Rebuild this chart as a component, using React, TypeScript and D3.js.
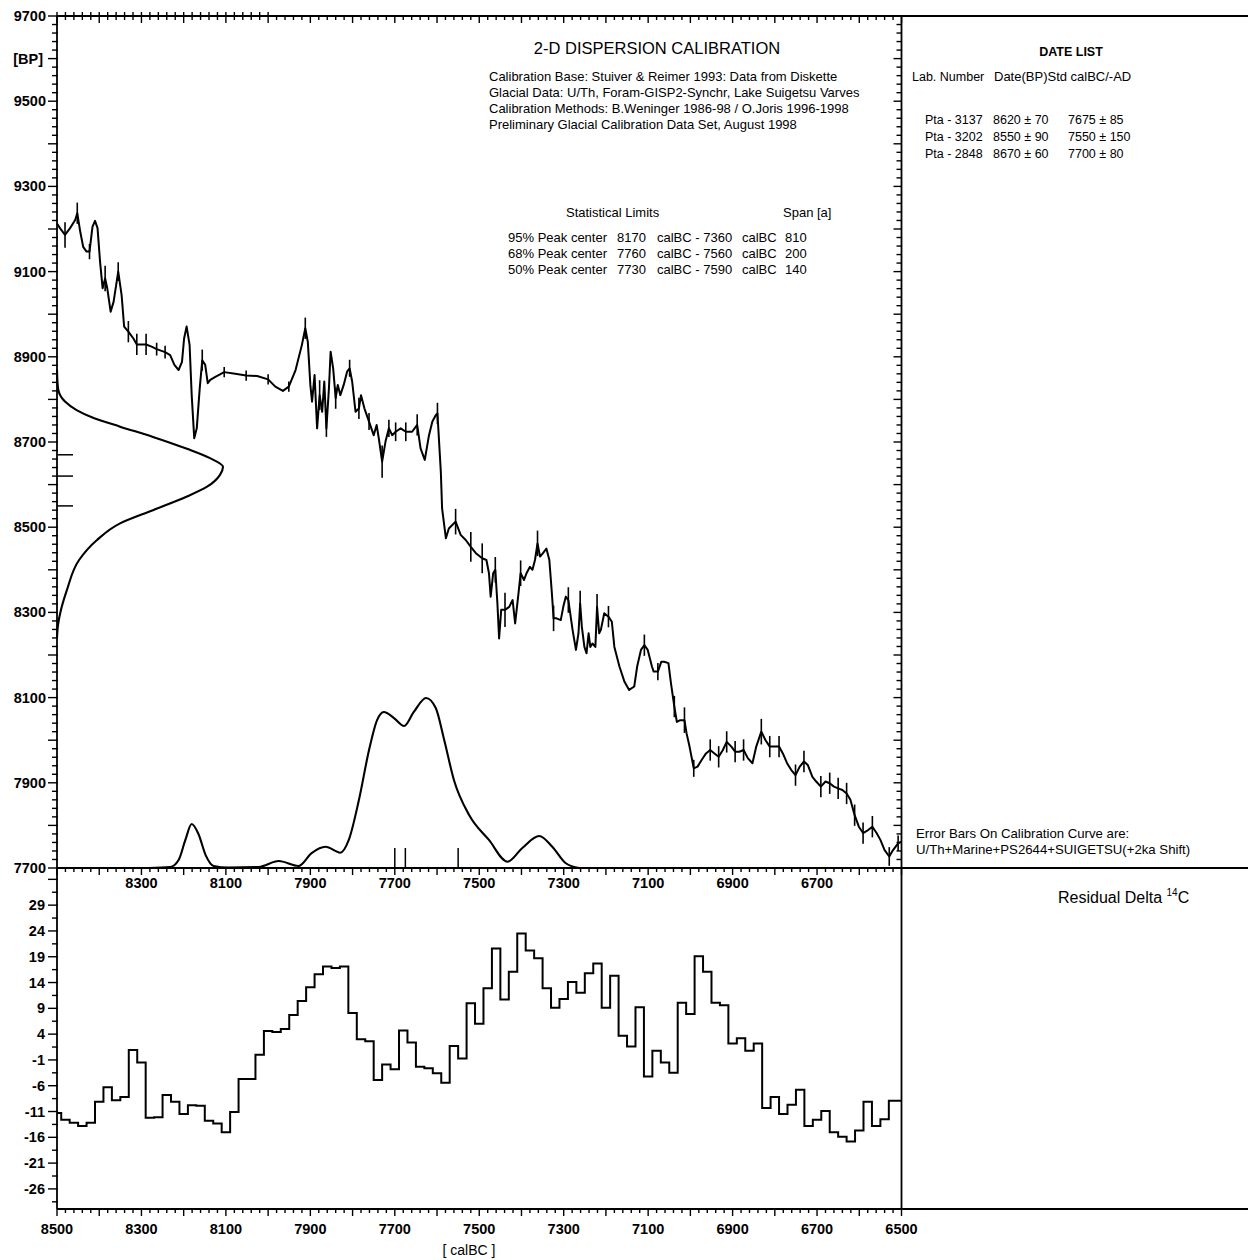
import React from 'react';
import * as d3 from 'd3';

// calibration curve (calBC, BP)
const CAL_BC = [8500, 8493, 8481, 8469, 8457, 8452, 8445, 8438, 8430, 8423, 8416, 8410, 8404, 8398, 8392, 8386, 8381, 8373, 8366, 8355, 8347, 8341, 8331, 8319, 8311, 8299, 8289, 8276, 8264, 8244, 8232, 8222, 8212, 8204, 8199, 8193, 8186, 8181, 8175, 8169, 8162, 8156, 8149, 8143, 8137, 8125, 8104, 8078, 8052, 8026, 8000, 7983, 7965, 7951, 7935, 7920, 7912, 7906, 7900, 7896, 7890, 7884, 7878, 7872, 7867, 7862, 7856, 7852, 7846, 7840, 7835, 7829, 7821, 7813, 7807, 7801, 7793, 7785, 7780, 7772, 7761, 7750, 7743, 7738, 7730, 7722, 7714, 7706, 7698, 7686, 7674, 7659, 7647, 7639, 7629, 7619, 7611, 7603, 7599, 7591, 7588, 7579, 7572, 7556, 7544, 7532, 7520, 7508, 7493, 7483, 7477, 7473, 7467, 7462, 7457, 7453, 7448, 7439, 7429, 7421, 7415, 7407, 7402, 7394, 7388, 7380, 7374, 7368, 7362, 7356, 7349, 7341, 7334, 7328, 7324, 7317, 7307, 7301, 7295, 7289, 7279, 7271, 7265, 7261, 7257, 7251, 7246, 7241, 7237, 7232, 7225, 7221, 7216, 7212, 7204, 7194, 7186, 7180, 7168, 7156, 7145, 7133, 7126, 7117, 7109, 7101, 7091, 7087, 7077, 7069, 7062, 7052, 7046, 7038, 7032, 7024, 7014, 7009, 7002, 6992, 6983, 6973, 6963, 6953, 6943, 6933, 6923, 6914, 6903, 6894, 6884, 6874, 6864, 6853, 6844, 6832, 6822, 6812, 6801, 6790, 6781, 6771, 6761, 6751, 6741, 6731, 6722, 6711, 6702, 6691, 6680, 6670, 6660, 6650, 6640, 6630, 6621, 6611, 6601, 6591, 6579, 6569, 6559, 6550, 6540, 6529, 6520, 6508, 6500];
const CAL_BP = [9213, 9202, 9186, 9202, 9221, 9237, 9194, 9158, 9147, 9147, 9205, 9219, 9202, 9123, 9061, 9084, 9061, 9006, 9029, 9100, 9045, 8971, 8959, 8943, 8929, 8929, 8929, 8924, 8918, 8911, 8904, 8881, 8869, 8888, 8943, 8971, 8928, 8810, 8709, 8732, 8826, 8892, 8881, 8838, 8846, 8853, 8864, 8860, 8856, 8855, 8847, 8830, 8820, 8830, 8869, 8928, 8967, 8935, 8834, 8795, 8857, 8732, 8810, 8771, 8842, 8732, 8826, 8912, 8873, 8803, 8834, 8810, 8834, 8865, 8873, 8842, 8771, 8779, 8810, 8779, 8748, 8716, 8740, 8709, 8654, 8701, 8732, 8716, 8724, 8732, 8724, 8724, 8740, 8685, 8658, 8716, 8748, 8763, 8767, 8630, 8544, 8474, 8497, 8513, 8482, 8470, 8454, 8439, 8427, 8423, 8392, 8337, 8392, 8400, 8321, 8239, 8306, 8306, 8313, 8329, 8274, 8345, 8392, 8376, 8392, 8407, 8400, 8423, 8462, 8431, 8439, 8450, 8423, 8345, 8286, 8286, 8282, 8313, 8337, 8329, 8259, 8212, 8251, 8321, 8266, 8219, 8204, 8251, 8219, 8227, 8219, 8313, 8251, 8259, 8298, 8290, 8278, 8219, 8173, 8137, 8118, 8126, 8173, 8212, 8223, 8212, 8173, 8161, 8161, 8184, 8184, 8181, 8134, 8079, 8043, 8047, 8047, 8016, 7985, 7934, 7938, 7954, 7969, 7977, 7969, 7961, 7977, 7996, 7985, 7973, 7973, 7977, 7958, 7946, 7985, 8020, 8000, 7985, 7985, 7985, 7969, 7946, 7930, 7918, 7938, 7950, 7942, 7914, 7903, 7891, 7903, 7899, 7891, 7887, 7883, 7875, 7860, 7824, 7797, 7782, 7789, 7797, 7782, 7766, 7742, 7727, 7742, 7758, 7762];

// error bars on the calibration curve
const ERR_BC = [8481, 8452, 8423, 8386, 8355, 8331, 8311, 8289, 8264, 8244, 8156, 8104, 8052, 8000, 7951, 7912, 7878, 7862, 7840, 7807, 7785, 7761, 7730, 7714, 7698, 7674, 7647, 7599, 7556, 7520, 7493, 7462, 7439, 7402, 7362, 7324, 7289, 7261, 7221, 7194, 7109, 7077, 7038, 7014, 6992, 6953, 6933, 6914, 6894, 6874, 6832, 6812, 6790, 6751, 6731, 6691, 6670, 6650, 6630, 6611, 6591, 6569, 6529, 6508];
const ERR_BP = [9186, 9237, 9147, 9084, 9100, 8959, 8929, 8929, 8918, 8911, 8892, 8864, 8856, 8847, 8830, 8967, 8810, 8732, 8803, 8873, 8779, 8748, 8654, 8732, 8724, 8724, 8740, 8767, 8513, 8454, 8427, 8400, 8306, 8392, 8462, 8286, 8329, 8321, 8313, 8290, 8223, 8161, 8079, 8047, 7934, 7977, 7961, 7996, 7973, 7977, 8020, 7985, 7985, 7918, 7950, 7891, 7899, 7887, 7875, 7824, 7782, 7797, 7727, 7758];
const ERR_SD = [30, 25, 18, 30, 22, 25, 25, 25, 15, 15, 25, 12, 12, 12, 12, 25, 35, 20, 25, 20, 25, 20, 38, 20, 22, 22, 25, 25, 30, 35, 35, 30, 40, 30, 30, 30, 30, 30, 30, 25, 25, 20, 25, 30, 20, 25, 25, 25, 25, 25, 30, 25, 25, 25, 25, 25, 25, 25, 25, 25, 25, 25, 22, 18];

// probability of the radiocarbon dates (BP axis)
const BP_DENS_BP = [8870, 8840, 8822, 8795, 8775, 8757, 8736, 8712, 8684, 8662, 8642, 8623, 8595, 8572, 8540, 8509, 8470, 8423, 8353, 8306, 8270, 8240];
const BP_DENS = [0, 0.003, 0.008, 0.048, 0.118, 0.217, 0.38, 0.578, 0.783, 0.922, 1.0, 0.982, 0.904, 0.783, 0.578, 0.38, 0.241, 0.133, 0.06, 0.024, 0.006, 0];

// calibrated probability (calBC axis)
const CAL_DENS_BC = [8283, 8232, 8212, 8196, 8181, 8165, 8148, 8129, 8094, 8022, 7975, 7928, 7897, 7864, 7829, 7809, 7785, 7761, 7742, 7726, 7702, 7678, 7655, 7626, 7603, 7583, 7560, 7524, 7477, 7433, 7398, 7358, 7327, 7295, 7263];
const CAL_DENS = [0, 0.006, 0.047, 0.165, 0.259, 0.2, 0.076, 0.012, 0.003, 0.006, 0.041, 0.012, 0.088, 0.125, 0.09, 0.165, 0.4, 0.694, 0.87, 0.918, 0.882, 0.835, 0.918, 1.0, 0.941, 0.753, 0.518, 0.312, 0.165, 0.037, 0.118, 0.188, 0.125, 0.028, 0];

// residual delta 14C, 20-year steps from 8500 calBC
const RESID = [-11.3, -12.6, -13.2, -13.8, -13.2, -9.1, -6.3, -8.8, -8.2, 0.9, -1.5, -12.2, -12.1, -7.8, -9.1, -11.5, -9.8, -9.9, -12.8, -13.3, -15.0, -11.1, -4.7, -4.7, 0, 4.6, 4.4, 5.0, 7.7, 10.4, 13.1, 15.6, 17.1, 16.8, 17.1, 8.1, 3.0, 2.6, -4.9, -1.9, -2.8, 4.7, 2.4, -2.3, -2.6, -3.6, -5.4, 1.7, -0.7, 10.0, 6.0, 12.9, 20.6, 10.7, 16.1, 23.5, 20.2, 18.7, 12.9, 9.1, 10.8, 14.1, 12.0, 15.8, 17.7, 9.1, 15.3, 3.7, 1.6, 9.2, -4.2, 0.8, -1.5, -3.5, 10.1, 7.9, 19.1, 16.1, 10.1, 9.6, 2.2, 3.2, 0.8, 2.2, -10.3, -8.2, -11.5, -9.7, -6.8, -13.8, -12.6, -10.9, -15.0, -15.9, -16.8, -14.7, -9.1, -13.8, -12.5, -8.9];
const RESID_START = 8500;
const RESID_STEP = 20;

// date list
const LAB_NO = ['Pta - 3137', 'Pta - 3202', 'Pta - 2848'];
const DATE_BP = [8620, 8550, 8670];
const DATE_BP_SD = [70, 90, 60];
const DATE_CAL = [7675, 7550, 7700];
const DATE_CAL_SD = [85, 150, 80];

// statistical limits
const STAT_LEVEL = ['95%', '68%', '50%'];
const STAT_FROM = [8170, 7760, 7730];
const STAT_TO = [7360, 7560, 7590];
const STAT_SPAN = [810, 200, 140];

const INFO_LINES = [
  'Calibration Base: Stuiver & Reimer 1993: Data from Diskette',
  'Glacial Data: U/Th, Foram-GISP2-Synchr, Lake Suigetsu Varves',
  'Calibration Methods: B.Weninger 1986-98 / O.Joris 1996-1998',
  'Preliminary Glacial Calibration Data Set, August 1998',
];

const TOP_X_LABELS = [8300, 8100, 7900, 7700, 7500, 7300, 7100, 6900, 6700];
const BOTTOM_X_LABELS = [8500, 8300, 8100, 7900, 7700, 7500, 7300, 7100, 6900, 6700, 6500];
const BP_LABELS = [9700, 9500, 9300, 9100, 8900, 8700, 8500, 8300, 8100, 7900, 7700];
const RES_LABELS = [29, 24, 19, 14, 9, 4, -1, -6, -11, -16, -21, -26];

const W = 1248, H = 1260;
const L = 57, R = 901.5, T = 16, M = 868, B = 1208;
const FONT = '"Liberation Sans", Arial, sans-serif';

export default function App() {
  const x = d3.scaleLinear().domain([8500, 6500]).range([L, R]);
  const yBP = d3.scaleLinear().domain([9700, 7700]).range([T, M]);
  const yRes = d3.scaleLinear().domain([36.2, -29.7]).range([M, B]);
  const dX = d3.scaleLinear().domain([0, 1]).range([L, L + 166]);
  const dY = d3.scaleLinear().domain([0, 1]).range([M, M - 170]);

  const curvePath = d3.line<number>()
    .x((_, i) => x(CAL_BC[i]))
    .y(d => yBP(d))(CAL_BP) || '';

  const bpDensPath = d3.line<number>()
    .x(d => dX(d))
    .y((_, i) => yBP(BP_DENS_BP[i]))
    .curve(d3.curveMonotoneY)(BP_DENS) || '';

  const calDensPath = d3.line<number>()
    .x((_, i) => x(CAL_DENS_BC[i]))
    .y(d => dY(d))
    .curve(d3.curveMonotoneX)(CAL_DENS) || '';

  const stepPts: [number, number][] = [];
  RESID.forEach((v, i) => {
    const c = RESID_START - RESID_STEP * i;
    const a = Math.min(8500, c + RESID_STEP / 2);
    const b = i === RESID.length - 1 ? 6500 : c - RESID_STEP / 2;
    stepPts.push([a, v], [b, v]);
  });
  const stepPath = d3.line<[number, number]>()
    .x(d => x(d[0]))
    .y(d => yRes(d[1]))(stepPts) || '';

  const years = d3.range(6500, 8501, 20);
  const bps = d3.range(7700, 9701, 20);
  const resTicks = d3.range(-28.5, 36, 2.5);

  const tickStroke = { stroke: '#000', strokeWidth: 1.4 };

  return (
    <div style={{ position: 'absolute', left: 0, top: 0 }}>
      <svg width={W} height={H} viewBox={`0 0 ${W} ${H}`} style={{ display: 'block', background: '#fff' }} fontFamily={FONT}>
        <rect width={W} height={H} fill="#fff" />

        {/* frame lines */}
        <g stroke="#000" strokeWidth={1.8} fill="none">
          <line x1={L} y1={T} x2={W} y2={T} />
          <line x1={L} y1={M} x2={W} y2={M} />
          <line x1={L} y1={B + 1} x2={W} y2={B + 1} />
          <line x1={L} y1={T} x2={L} y2={B + 1} />
          <line x1={R} y1={T} x2={R} y2={B + 1} />
        </g>

        {/* top border ticks */}
        <g {...tickStroke}>
          {years.map(yr => {
            const major = yr % 100 === 0;
            const cross = yr >= 8000;
            const y1 = cross ? T - 4 : T;
            const y2 = T + (major ? 7 : 4);
            return <line key={`tt${yr}`} x1={x(yr)} x2={x(yr)} y1={y1} y2={y2} />;
          })}
        </g>

        {/* x ticks of top panel */}
        <g {...tickStroke}>
          {years.map(yr => (
            <line key={`tm${yr}`} x1={x(yr)} x2={x(yr)} y1={M} y2={M + (yr % 100 === 0 ? 7 : 4)} />
          ))}
        </g>
        <g fontSize={14.5} fontWeight="bold" textAnchor="middle">
          {TOP_X_LABELS.map(v => (
            <text key={`tl${v}`} x={x(v)} y={M + 20}>{v}</text>
          ))}
        </g>

        {/* x ticks of bottom panel */}
        <g {...tickStroke}>
          {years.map(yr => (
            <line key={`tb${yr}`} x1={x(yr)} x2={x(yr)} y1={B + 1} y2={B + 1 + (yr % 100 === 0 ? 7 : 4)} />
          ))}
        </g>
        <g fontSize={14.5} fontWeight="bold" textAnchor="middle">
          {BOTTOM_X_LABELS.map(v => (
            <text key={`bl${v}`} x={x(v)} y={B + 26}>{v}</text>
          ))}
        </g>
        <text x={469} y={1255} fontSize={14} textAnchor="middle">[ calBC ]</text>

        {/* BP axis */}
        <g {...tickStroke}>
          {bps.map(bp => {
            const major = bp % 100 === 0;
            return (
              <g key={`by${bp}`}>
                <line x1={L - (major ? 9 : 5)} x2={L + 1} y1={yBP(bp)} y2={yBP(bp)} />
                <line x1={R - (major ? 8 : 5)} x2={R} y1={yBP(bp)} y2={yBP(bp)} />
              </g>
            );
          })}
        </g>
        <g fontSize={14.5} fontWeight="bold" textAnchor="end">
          {BP_LABELS.map(v => (
            <text key={`bpl${v}`} x={46} y={yBP(v) + 5}>{v}</text>
          ))}
          <text x={43} y={yBP(9600) + 5}>[BP]</text>
        </g>

        {/* residual axis */}
        <g {...tickStroke}>
          {resTicks.map(v => {
            const major = Math.abs(((v + 26) % 5 + 5) % 5) < 1e-6;
            return <line key={`ry${v}`} x1={L - (major ? 9 : 5)} x2={L + 1} y1={yRes(v)} y2={yRes(v)} />;
          })}
        </g>
        <g fontSize={14.5} fontWeight="bold" textAnchor="end">
          {RES_LABELS.map(v => (
            <text key={`rl${v}`} x={45} y={yRes(v) + 5}>{v}</text>
          ))}
        </g>

        {/* date markers */}
        <g stroke="#000" strokeWidth={1.5}>
          {DATE_BP.map((bp, i) => (
            <line key={`db${i}`} x1={L} x2={L + 16} y1={yBP(bp)} y2={yBP(bp)} />
          ))}
          {DATE_CAL.map((c, i) => (
            <line key={`dc${i}`} x1={x(c)} x2={x(c)} y1={M} y2={M - 20} />
          ))}
        </g>

        {/* curves */}
        <g fill="none" stroke="#000" strokeLinejoin="round">
          <path d={bpDensPath} strokeWidth={2.1} />
          <path d={calDensPath} strokeWidth={2.1} />
          <path d={curvePath} strokeWidth={2} />
          <path d={stepPath} strokeWidth={2} strokeLinejoin="miter" />
        </g>
        <g stroke="#000" strokeWidth={1.6}>
          {ERR_BC.map((c, i) => (
            <line key={`eb${i}`} x1={x(c)} x2={x(c)} y1={yBP(ERR_BP[i] + ERR_SD[i])} y2={yBP(ERR_BP[i] - ERR_SD[i])} />
          ))}
        </g>

        {/* title and notes */}
        <text x={657} y={54} fontSize={16.5} textAnchor="middle">2-D DISPERSION CALIBRATION</text>
        <g fontSize={13}>
          {INFO_LINES.map((s, i) => (
            <text key={`il${i}`} x={489} y={81 + i * 16}>{s}</text>
          ))}
          <text x={566} y={217}>Statistical Limits</text>
          <text x={783} y={217}>Span [a]</text>
          {STAT_LEVEL.map((lv, i) => (
            <g key={`st${i}`}>
              <text x={508} y={242 + i * 16}>{lv} Peak center</text>
              <text x={617} y={242 + i * 16}>{STAT_FROM[i]}</text>
              <text x={657} y={242 + i * 16}>calBC - {STAT_TO[i]}</text>
              <text x={742} y={242 + i * 16}>calBC</text>
              <text x={785} y={242 + i * 16}>{STAT_SPAN[i]}</text>
            </g>
          ))}
        </g>

        {/* right panel */}
        <g fontSize={12.5}>
          <text x={1071} y={56} fontWeight="bold" textAnchor="middle">DATE LIST</text>
          <text x={912} y={81}>Lab. Number</text>
          <text x={994} y={81} fontSize={13}>Date(BP)Std calBC/-AD</text>
          {LAB_NO.map((lab, i) => (
            <g key={`dl${i}`}>
              <text x={925} y={124 + i * 17}>{lab}</text>
              <text x={993} y={124 + i * 17}>{DATE_BP[i]} ± {DATE_BP_SD[i]}</text>
              <text x={1068} y={124 + i * 17}>{DATE_CAL[i]} ± {DATE_CAL_SD[i]}</text>
            </g>
          ))}
          <text x={916} y={838} fontSize={13.2}>Error Bars On Calibration Curve are:</text>
          <text x={916} y={854} fontSize={13.2}>U/Th+Marine+PS2644+SUIGETSU(+2ka Shift)</text>
        </g>
        <text x={1058} y={903} fontSize={16}>
          Residual Delta <tspan fontSize={10} dy={-7}>14</tspan><tspan dy={7}>C</tspan>
        </text>
      </svg>
    </div>
  );
}
